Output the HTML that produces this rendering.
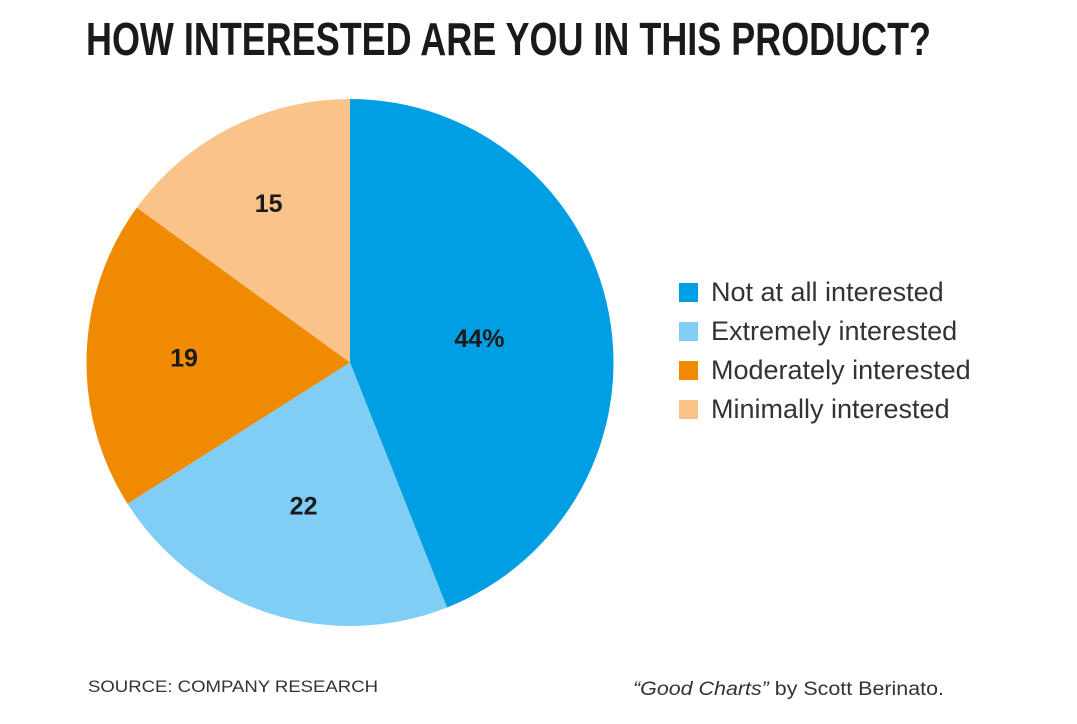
<!DOCTYPE html>
<html><head><meta charset="utf-8"><style>
body{margin:0;background:#fff;}
svg text{font-family:"Liberation Sans",sans-serif;}
</style></head><body>
<svg width="1077" height="719" viewBox="0 0 1077 719">
<text x="86" y="55" font-size="46" font-weight="bold" fill="#1a1a1a" textLength="845" lengthAdjust="spacingAndGlyphs">HOW INTERESTED ARE YOU IN THIS PRODUCT?</text>
<g id="slices"></g>
<g id="labels"></g>
<g id="legend"></g>
<text x="88" y="692" font-size="17" fill="#333" textLength="290" lengthAdjust="spacingAndGlyphs">SOURCE: COMPANY RESEARCH</text>
<text x="633" y="695" font-size="19" fill="#333" textLength="311" lengthAdjust="spacingAndGlyphs"><tspan font-style="italic">“Good Charts”</tspan> by Scott Berinato.</text>
</svg>
<script>
const categories=["Not at all interested","Extremely interested","Moderately interested","Minimally interested"];
const values=[44,22,19,15];
const valueLabels=["44%","22","19","15"];
const colors=["#009fe3","#80cdf5","#f08a00","#f9c38a"];
const labelRadius=[0.5,0.57,0.63,0.68];
const cx=350,cy=362.5,r=263.5;
const ns="http://www.w3.org/2000/svg";
const total=values.reduce((a,b)=>a+b,0);
let a0=0;
const sg=document.getElementById('slices'),lg=document.getElementById('labels'),leg=document.getElementById('legend');
function pt(a,rr){return [cx+rr*Math.sin(a),cy-rr*Math.cos(a)];}
values.forEach((v,i)=>{
  const a1=a0+v/total*2*Math.PI;
  const [x0,y0]=pt(a0,r),[x1,y1]=pt(a1,r);
  const p=document.createElementNS(ns,'path');
  p.setAttribute('d',`M${cx},${cy}L${x0},${y0}A${r},${r} 0 ${a1-a0>Math.PI?1:0} 1 ${x1},${y1}Z`);
  p.setAttribute('fill',colors[i]);
  
  
  sg.appendChild(p);
  const am=(a0+a1)/2;const [lx,ly]=pt(am,r*labelRadius[i]);
  const t=document.createElementNS(ns,'text');
  t.setAttribute('x',lx);t.setAttribute('y',ly+9);t.setAttribute('text-anchor','middle');
  t.setAttribute('font-size','25');t.setAttribute('font-weight','bold');t.setAttribute('fill','#1a1a1a');
  t.textContent=valueLabels[i];
  
  
  lg.appendChild(t);
  const y=283+i*39;
  const s=document.createElementNS(ns,'rect');
  s.setAttribute('x',679);s.setAttribute('y',y);s.setAttribute('width',19);s.setAttribute('height',19);s.setAttribute('fill',colors[i]);
  
  
  leg.appendChild(s);
  const lt=document.createElementNS(ns,'text');
  lt.setAttribute('x',711);lt.setAttribute('y',y+18);lt.setAttribute('font-size','27');lt.setAttribute('fill','#333');
  lt.textContent=categories[i];
  
  
  leg.appendChild(lt);
  a0=a1;
});
</script>
</body></html>
